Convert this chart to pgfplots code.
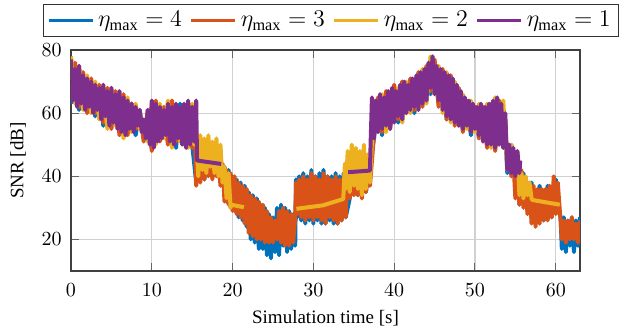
\documentclass[border=0pt]{standalone}
\usepackage{fontspec}
\setmainfont{Liberation Serif}
\usepackage{pgfplots}
\pgfplotsset{compat=1.18}
\definecolor{mblue}{rgb}{0,0.447,0.741}
\definecolor{morange}{rgb}{0.85,0.325,0.098}
\definecolor{myellow}{rgb}{0.929,0.694,0.125}
\definecolor{mpurple}{rgb}{0.494,0.184,0.556}
\begin{document}
\begin{tikzpicture}
\begin{axis}[
  name=ax,
  scale only axis, width=254.5pt, height=110.5pt,
  xmin=0, xmax=63, ymin=10, ymax=80,
  xtick={0,10,20,30,40,50,60}, ytick={20,40,60,80},
  tick align=inside, major tick length=4pt,
  tick style={color=black!60, line width=0.5pt},
  grid=major, major grid style={color=black!18, line width=0.6pt},
  axis line style={color=black!75, line width=0.6pt},
  xticklabel style={anchor=center, yshift=-9.5pt},
  yticklabel style={anchor=east, xshift=-4.5pt, inner sep=0pt},
  xlabel={\fontsize{9.5}{11}\selectfont Simulation time [s]},
  ylabel={\fontsize{9.5}{11}\selectfont SNR [dB]},
  xlabel style={at={(axis description cs:0.5,0)}, anchor=center, yshift=-23.5pt},
  ylabel style={at={(axis description cs:0,0.5)}, anchor=center, rotate=0, yshift=26.5pt},
  unbounded coords=jump,
  legend columns=4,
  legend style={at={(0.491,1)}, xshift=5pt, yshift=6.5pt, anchor=south, draw=black!80, line width=0.5pt,
    fill=white, inner xsep=2pt, inner ysep=1.5pt,
    font=\fontsize{11.6}{14}\selectfont,
    nodes={inner sep=2pt},
    /tikz/every even column/.append style={column sep=2pt}},
  legend image code/.code={\draw[#1, line width=1.5pt] (0pt,0pt) -- (22pt,0pt);},
  every axis plot/.append style={line width=2pt, line join=round, mark=none},
]
% eta_max = 4
\addplot[color=mblue] coordinates {
(0,63) (0.5,75) (1,61) (1.5,72) (2,61) (2.5,70) (3,59) (3.5,68) (4,56) (4.5,67) (5,56) (5.5,66) (6,54) (6.5,65) (7,55) (7.5,63) (8,53) (8.5,61) (9,52) (9.5,60) (10,49) (10.5,63) (11,52) (11.5,61) (12,51) (12.5,62) (13,49) (13.5,63) (14,51) (14.5,62) (15,50)
(15.5,38) (16,48) (16.5,39) (17,47) (17.5,40) (18,46) (18.5,38) (19,43) (19.25,32) (19.5,42) (19.75,30) (20,40) (20.25,29) (20.5,39) (20.75,27) (21,38) (21.25,26) (21.5,37) (21.75,24) (22,35) (22.25,20) (22.5,34) (22.75,19) (23,33) (23.25,17) (23.5,31) (23.75,17) (24,30) (24.25,15) (24.5,28) (24.75,14) (25,27) (25.25,16) (25.5,30) (25.75,15) (26,31) (26.25,18) (26.5,30) (26.75,16) (27,29) (27.25,17) (27.5,28) (27.75,18)
(27.85,39) (28,27) (28.25,40) (28.5,26) (28.75,41) (29,25) (29.25,40) (29.5,26) (29.75,42) (30,25) (30.25,40) (30.5,26) (30.75,41) (31,25) (31.25,42) (31.5,25) (31.75,40) (32,26) (32.25,40) (32.5,25) (32.75,41) (33,25) (33.25,40) (33.5,26) (33.75,41) (34,27) (34.5,33) (35,44) (35.5,34) (36,44) (36.5,35) (37,44)
(37.5,52) (38,64) (38.5,53) (39,66) (39.5,56) (40,68) (40.5,57) (41,70) (41.5,61) (42,70) (42.5,60) (43,72) (43.5,63) (44,74) (44.5,66) (45,76) (45.5,63) (46,73) (46.5,58) (47,71) (47.5,57) (48,67) (48.5,55) (49,63) (49.5,53) (50,62) (50.5,52) (51,61) (51.5,50) (52,62) (52.5,49) (53,63) (53.5,49) (53.75,57)
(54,41) (54.5,50) (55,41) (55.25,43) (55.5,31) (56,41) (56.5,29) (57,38) (57.5,25) (58,37) (58.5,26) (59,37) (59.5,27) (60,39) (60.5,28) (60.6,27) (60.75,17) (61,27) (61.25,16) (61.5,26) (61.75,18) (62,27) (62.25,16) (62.5,26) (62.75,18) (63,27)
};
\addlegendentry{$\eta_{\max}=4$}
% eta_max = 3
\addplot[color=morange] coordinates {
(0,64) (0.5,76) (1,62) (1.5,73) (2,60) (2.5,71) (3,60) (3.5,69) (4,57) (4.5,68) (5,55) (5.5,67) (6,53) (6.5,66) (7,53) (7.5,63) (8,55) (8.5,61) (9,51) (9.5,61) (10,48) (10.5,64) (11,51) (11.5,62) (12,50) (12.5,64) (13,51) (13.5,62) (14,50) (14.5,63) (15,49) (15.25,62)
(15.5,37) (15.75,50) (16,38) (16.25,49) (16.5,39) (16.75,48) (17,40) (17.25,48) (17.5,39) (17.75,47) (18,40) (18.25,46) (18.5,37) (18.75,44) (19,32) (19.25,42) (19.5,31) (19.75,41) (20,29) (20.25,40) (20.5,28) (20.75,38) (21,27) (21.25,37) (21.5,25) (21.75,36) (22,22) (22.25,34) (22.5,21) (22.75,33) (23,20) (23.25,32) (23.5,20) (23.75,31) (24,19) (24.25,29) (24.5,19) (24.75,27) (25,19) (25.25,26) (25.5,20) (25.75,29) (26,19) (26.25,30) (26.5,18) (26.75,29) (27,18) (27.25,28) (27.5,19) (27.75,27)
(27.85,38) (28,28) (28.25,39) (28.5,27) (28.75,40) (29,26) (29.25,39) (29.5,27) (29.75,41) (30,26) (30.25,40) (30.5,27) (30.75,39) (31,26) (31.25,41) (31.5,25) (31.75,40) (32,27) (32.25,39) (32.5,26) (32.75,40) (33,25) (33.25,39) (33.5,26) (33.75,40) (34,27) (34.25,42) (34.5,33) (34.75,45) (35,34) (35.25,44) (35.5,34) (35.75,43) (36,33) (36.25,44) (36.5,35) (36.75,43) (37,37)
(37.5,53) (38,65) (38.5,54) (39,67) (39.5,55) (40,69) (40.5,58) (41,70) (41.5,60) (42,71) (42.5,61) (43,73) (43.5,62) (44,75) (44.5,67) (45,77) (45.5,62) (46,74) (46.5,58) (47,72) (47.5,56) (48,68) (48.5,54) (49,64) (49.5,54) (50,62) (50.5,52) (51,62) (51.5,49) (52,63) (52.5,48) (53,64) (53.5,50) (53.75,58)
(54,43) (54.25,50) (54.5,40) (54.75,45) (55,33) (55.25,43) (55.5,31) (55.75,42) (56,30) (56.25,40) (56.5,28) (56.75,38) (57,25) (57.25,37) (57.5,24) (57.75,36) (58,25) (58.25,36) (58.5,26) (58.75,36) (59,26) (59.25,37) (59.5,27) (59.75,40) (60,28) (60.25,38) (60.5,29) (60.6,26) (60.75,20) (61,26) (61.25,19) (61.5,26) (61.75,20) (62,27) (62.25,20) (62.5,25) (62.75,19) (63,26)
};
\addlegendentry{$\eta_{\max}=3$}
% eta_max = 2
\addplot[color=myellow] coordinates {
(0,78) (0.5,63) (1,75) (1.5,61) (2,72) (2.5,60) (3,70) (3.5,58) (4,68) (4.5,55) (5,68) (5.5,56) (6,66) (6.5,52) (7,65) (7.5,54) (8,63) (8.5,55) (9,57) (9.5,51) (10,63) (10.5,50) (11,63) (11.5,52) (12,64) (12.5,49) (13,62) (13.5,51) (14,62) (14.5,49) (15,63) (15.25,50)
(15.5,54) (15.75,40) (16,53) (16.25,42) (16.5,52) (16.75,41) (17,53) (17.25,43) (17.5,51) (17.75,41) (18,52) (18.25,40) (18.5,50) (18.75,38) (19,43) (19.25,33) (19.5,41) (19.75,30) (19.8,31) (21.4,30.2) (24,nan)
(27.9,29.7) (31.2,30.8) (33.7,32.8) (33.9,44) (34,36) (34.25,48) (34.5,35) (34.75,50) (35,37) (35.25,49) (35.5,36) (35.75,48) (36,34) (36.25,50) (36.5,36) (36.75,47) (37,38)
(37.5,64) (38,54) (38.5,66) (39,54) (39.5,67) (40,58) (40.5,68) (41,57) (41.5,70) (42,60) (42.5,71) (43,61) (43.5,74) (44,63) (44.5,78) (45,66) (45.5,75) (46,60) (46.5,73) (47,57) (47.5,70) (48,56) (48.5,66) (49,55) (49.5,64) (50,54) (50.5,63) (51,51) (51.5,63) (52,49) (52.5,65) (53,50) (53.5,64)
(54,42) (54.5,50) (55,41) (55.25,48) (55.5,34) (55.75,41) (56,33) (56.25,40) (56.5,34) (56.75,38) (57,33) (57.1,32.5) (60.5,31)
};
\addlegendentry{$\eta_{\max}=2$}
% eta_max = 1
\addplot[color=mpurple] coordinates {
(0,77) (0.25,64) (0.5,74) (0.75,62) (1,75) (1.25,63) (1.5,72) (1.75,61) (2,71) (2.25,62) (2.5,70) (2.75,60) (3,69) (3.25,61) (3.5,68) (3.75,58) (4,69) (4.25,59) (4.5,67) (4.75,56) (5,68) (5.25,57) (5.5,66) (5.75,55) (6,67) (6.25,54) (6.5,65) (6.75,53) (7,64) (7.25,55) (7.5,63) (7.75,54) (8,62) (8.25,56) (8.5,61) (8.75,54) (9,58) (9.25,52) (9.5,61) (9.75,50) (10,64) (10.25,49) (10.5,63) (10.75,51) (11,62) (11.25,52) (11.5,61) (11.75,53) (12,63) (12.25,51) (12.5,62) (12.75,50) (13,63) (13.25,52) (13.5,62) (13.75,50) (14,63) (14.25,49) (14.5,64) (14.75,50) (15,62) (15.25,51) (15.5,64) (15.6,45) (18.6,43.9) (25,nan)
(34.3,41.3) (37.0,41.8) (37.1,52) (37.25,65) (37.5,52) (37.75,64) (38,54) (38.25,66) (38.5,55) (38.75,65) (39,56) (39.25,67) (39.5,55) (39.75,68) (40,57) (40.25,67) (40.5,59) (40.75,69) (41,58) (41.25,70) (41.5,60) (41.75,69) (42,61) (42.25,71) (42.5,62) (42.75,72) (43,61) (43.25,73) (43.5,63) (43.75,74) (44,64) (44.25,76) (44.5,68) (44.75,78) (45,66) (45.25,75) (45.5,64) (45.75,74) (46,61) (46.25,73) (46.5,59) (46.75,72) (47,58) (47.25,71) (47.5,57) (47.75,69) (48,56) (48.25,67) (48.5,55) (48.75,65) (49,56) (49.25,64) (49.5,54) (49.75,63) (50,55) (50.25,62) (50.5,53) (50.75,63) (51,51) (51.25,62) (51.5,50) (51.75,63) (52,50) (52.25,64) (52.5,49) (52.75,65) (53,50) (53.25,63) (53.5,49) (53.75,60) (54,42) (54.25,50) (54.5,41) (54.75,49) (55,40) (55.25,48) (55.5,41) (55.6,45)
};
\addlegendentry{$\eta_{\max}=1$}
\end{axis}
\path ([xshift=-35.5pt,yshift=-30pt]ax.south west) rectangle ([xshift=24.5pt,yshift=25pt]ax.north east);
\end{tikzpicture}
\end{document}
